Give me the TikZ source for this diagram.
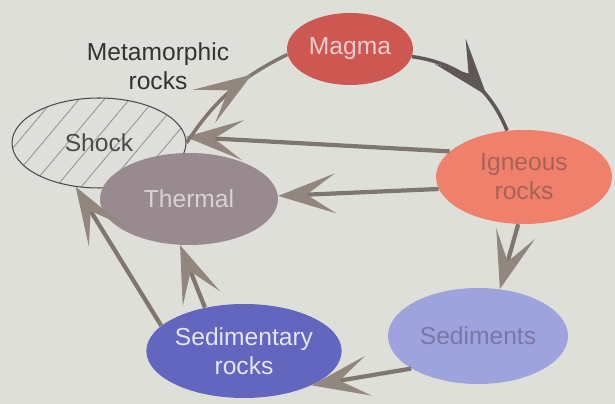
\documentclass[tikz,border=0pt]{standalone}
\usepackage{fontspec}
\setmainfont{Liberation Sans}
\usetikzlibrary{shapes.geometric,arrows.meta,patterns.meta,decorations.markings}

\definecolor{paper}{RGB}{223,223,217}
\definecolor{arrowgray}{RGB}{128,118,112}
\definecolor{tipgray}{RGB}{145,135,126}
\definecolor{darkarrow}{RGB}{95,86,86}
\definecolor{magmafill}{RGB}{205,88,82}
\definecolor{magmatext}{RGB}{240,205,205}
\definecolor{igneousfill}{RGB}{238,128,108}
\definecolor{igneoustext}{RGB}{168,98,88}
\definecolor{sedfill}{RGB}{158,163,222}
\definecolor{sedtext}{RGB}{122,118,165}
\definecolor{sedrockfill}{RGB}{98,102,190}
\definecolor{sedrocktext}{RGB}{228,228,242}
\definecolor{thermalfill}{RGB}{152,138,143}
\definecolor{thermaltext}{RGB}{218,208,214}
\definecolor{shockline}{RGB}{75,75,75}
\definecolor{hatch}{RGB}{150,150,150}

\begin{document}
\begin{tikzpicture}[x=0.02cm,y=-0.02cm,
  rock/.style={ellipse,inner sep=0pt,align=center,font=\fontsize{14}{16.5}\selectfont},
  bigtip/.tip={Stealth[length=1.15cm,width=0.8cm,inset=0.58cm,color=tipgray]},
  darktip/.tip={Stealth[length=1.15cm,width=0.8cm,inset=0.58cm,color=darkarrow]},
  cyc/.style={line width=2.4pt,draw=arrowgray,-bigtip},
  midcyc/.style 2 args={line width=2pt,draw=#2,
    postaction={decorate,decoration={markings,mark=at position #1 with {\arrow{bigtip}}}}},
  darkcyc/.style={line width=2pt,draw=darkarrow,
    postaction={decorate,decoration={markings,mark=at position #1 with {\arrow{darktip}}}}}]
  \fill[paper] (0,0) rectangle (615,404);
  \useasboundingbox (0,0) rectangle (615,404);

  \node[rock,minimum width=3.48cm,minimum height=1.8cm,draw=shockline,line width=0.6pt,
    pattern={Lines[angle=50,distance=11pt,line width=0.5pt]},pattern color=hatch,
    text=shockline] (shock) at (99,143) {Shock};
  \node[rock,minimum width=3.56cm,minimum height=1.84cm,fill=thermalfill,text=thermaltext]
    (thermal) at (189,199) {Thermal};
  \node[rock,minimum width=2.52cm,minimum height=1.44cm,fill=magmafill,text=magmatext]
    (magma) at (350,49) {Magma};
  \node[rock,minimum width=3.52cm,minimum height=1.88cm,fill=igneousfill,text=igneoustext]
    (igneous) at (524,177) {Igneous\\rocks};
  \node[rock,minimum width=3.6cm,minimum height=1.92cm,fill=sedfill,text=sedtext]
    (sediments) at (478,336) {Sediments};
  \node[rock,minimum width=3.6cm,minimum height=1.88cm,fill=sedrockfill,text=sedrocktext]
    (sedrocks) at (244,351) {Sedimentary\\rocks};
  \node[align=center,font=\fontsize{14}{16.5}\selectfont,text=black!80] (meta) at (158,66)
    {Metamorphic\\rocks};

  \draw[darkcyc=0.68] (magma.353) to[bend left=30] (igneous.110);
  \draw[cyc] (igneous.263) -- (sediments.65);
  \draw[cyc] (sediments.206) -- (sedrocks.333);
  \draw[cyc] (sedrocks.132) -- (thermal.259);
  \draw[cyc] (sedrocks.163) -- (shock.242);
  \draw[cyc] (igneous.188) -- (thermal.2);
  \draw[cyc] (igneous.161) -- (shock.4);
  \draw[midcyc={0.7}{arrowgray}] (shock.east) to[bend left=15] (magma.185);
\end{tikzpicture}
\end{document}
